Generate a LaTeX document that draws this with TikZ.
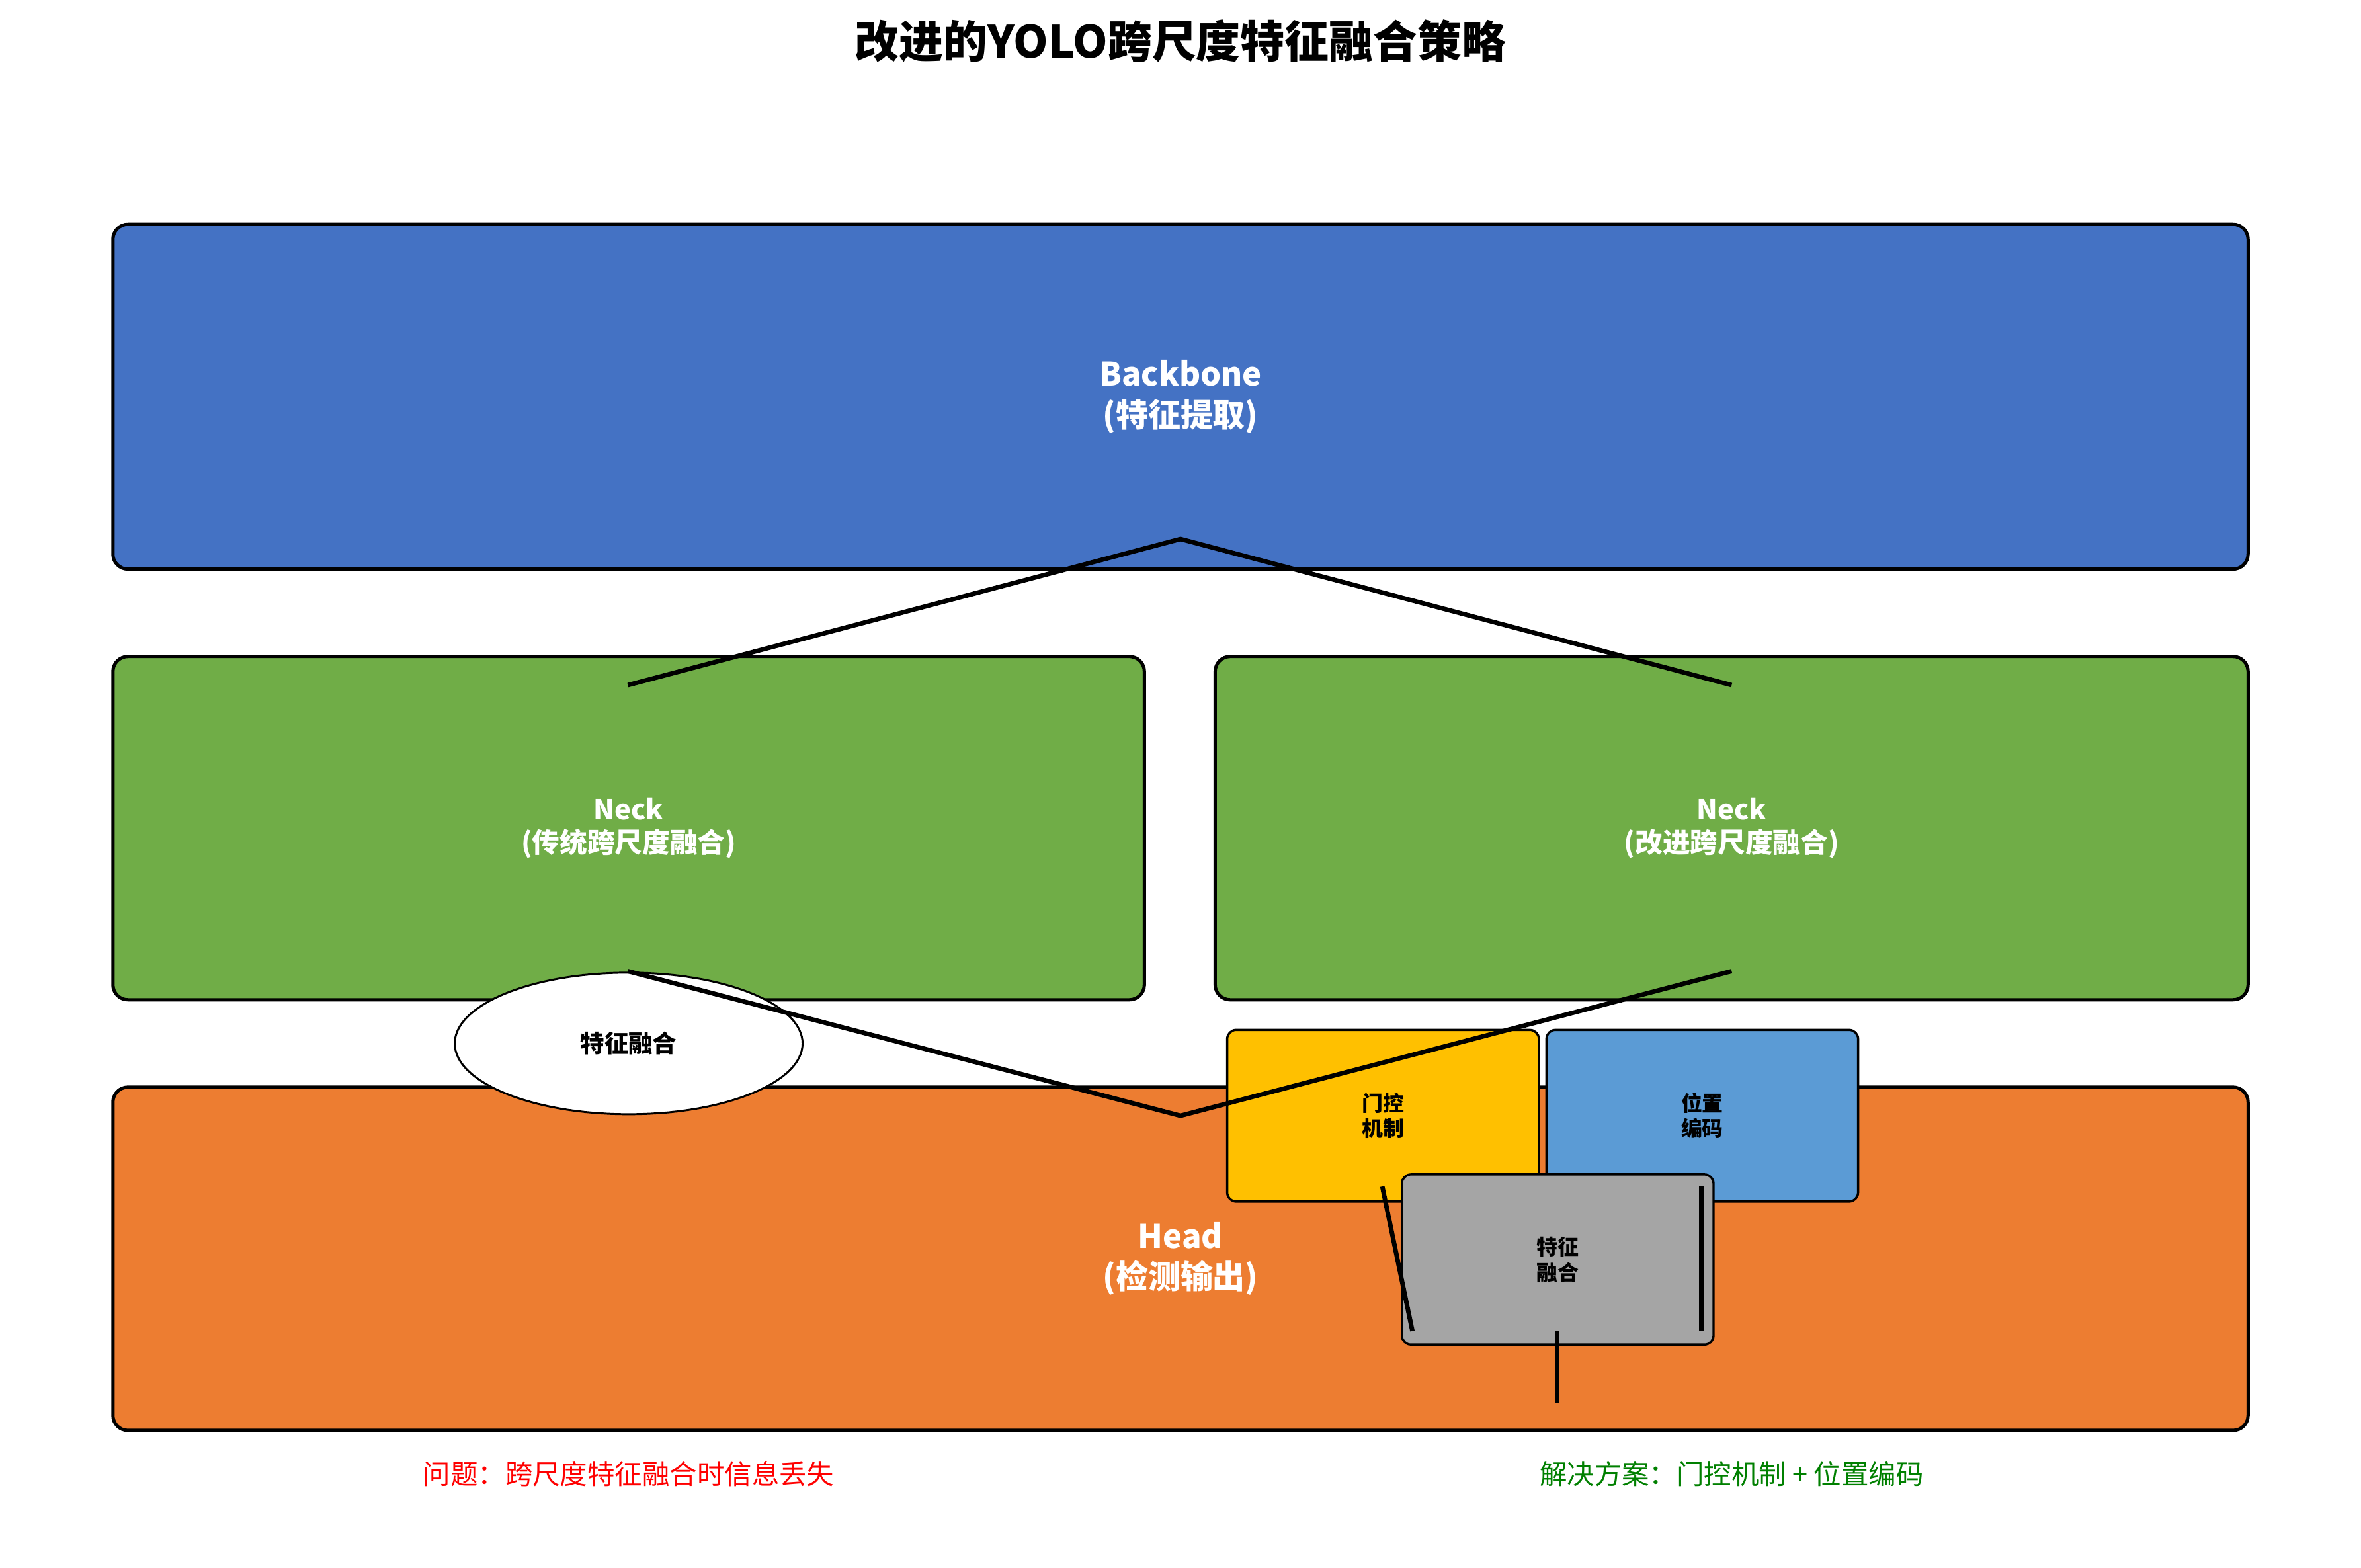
\documentclass[tikz,border=0pt]{standalone}
\usepackage{fontspec}
\setmainfont{Noto Sans CJK SC}
\usetikzlibrary{shapes.geometric}
\definecolor{cbb}{HTML}{4472C4}
\definecolor{cneck}{HTML}{70AD47}
\definecolor{chead}{HTML}{ED7D31}
\definecolor{cgate}{HTML}{FFC000}
\definecolor{cpos}{HTML}{5B9BD5}
\definecolor{cfuse}{HTML}{A5A5A5}
\definecolor{cgreen}{HTML}{008000}
\begin{document}
\begin{tikzpicture}[x=1pt,y=-1pt,
  bigbox/.style={draw=black, line width=2.2pt, rounded corners=10pt, text=white, align=center, inner sep=0pt},
  bigfont/.style={font=\bfseries\fontsize{21.5}{27}\selectfont},
  neckfont/.style={font=\bfseries\fontsize{18.3}{22}\selectfont},
  smallbox/.style={draw=black, line width=1.5pt, rounded corners=6pt, text=black, align=center, inner sep=0pt,
    minimum width=207pt, minimum height=114pt, font=\bfseries\fontsize{14}{17}\selectfont},
  link/.style={draw=black, line width=3pt},
  note/.style={font=\fontsize{18.2}{22}\selectfont, inner sep=0pt}]
\fill[white] (0,0) rectangle (1568,1041);
\useasboundingbox (0,0) rectangle (1568,1041);

\node[font=\bfseries\fontsize{29.4}{32}\selectfont, inner sep=0pt] (title) at (784,27) {改进的YOLO跨尺度特征融合策略};

\node[bigbox, bigfont, fill=cbb, minimum width=1418pt, minimum height=229pt] (bb) at (784,263.5) {Backbone\\(特征提取)};
\node[bigbox, neckfont, fill=cneck, minimum width=685pt, minimum height=228pt] (neckL) at (417.5,550) {Neck\\(传统跨尺度融合)};
\node[bigbox, neckfont, fill=cneck, minimum width=686pt, minimum height=228pt] (neckR) at (1150,550) {Neck\\(改进跨尺度融合)};
\node[bigbox, bigfont, fill=chead, minimum width=1418pt, minimum height=228pt] (head) at (784,836) {Head\\(检测输出)};

\node[ellipse, draw=black, line width=1.3pt, fill=white, minimum width=231pt, minimum height=94pt, inner sep=0pt,
  font=\bfseries\fontsize{16}{19}\selectfont] (fuseE) at (417.5,693) {特征融合};

\node[smallbox, fill=cgate] (gate) at (918.5,741) {门控\\机制};
\node[smallbox, fill=cpos] (pos) at (1130.5,741) {位置\\编码};
\node[smallbox, fill=cfuse, minimum height=113pt] (fuse) at (1034.5,836.5) {特征\\融合};

\coordinate (bbOut) at (784,358);
\coordinate (nLin) at (417,455);
\coordinate (nRin) at (1150,455);
\coordinate (nLout) at (417,645);
\coordinate (nRout) at (1150,645);
\coordinate (hIn) at (784,741);
\coordinate (gOut) at (918,788);
\coordinate (fIn) at (938,884);
\coordinate (pOut) at (1130,788);
\coordinate (pIn) at (1130,884);
\coordinate (fOut) at (1034,884);
\coordinate (hEnd) at (1034,932);

\draw[link] (nLin) -- (bbOut) -- (nRin);
\draw[link] (nLout) -- (hIn) -- (nRout);
\draw[link] (gOut) -- (fIn);
\draw[link] (pOut) -- (pIn);
\draw[link] (fOut) -- (hEnd);

\node[note, text=red] (problem) at (417.5,979) {问题：跨尺度特征融合时信息丢失};
\node[note, text=cgreen] (solution) at (1150,979) {解决方案：门控机制\ +\ 位置编码};
\end{tikzpicture}
\end{document}
